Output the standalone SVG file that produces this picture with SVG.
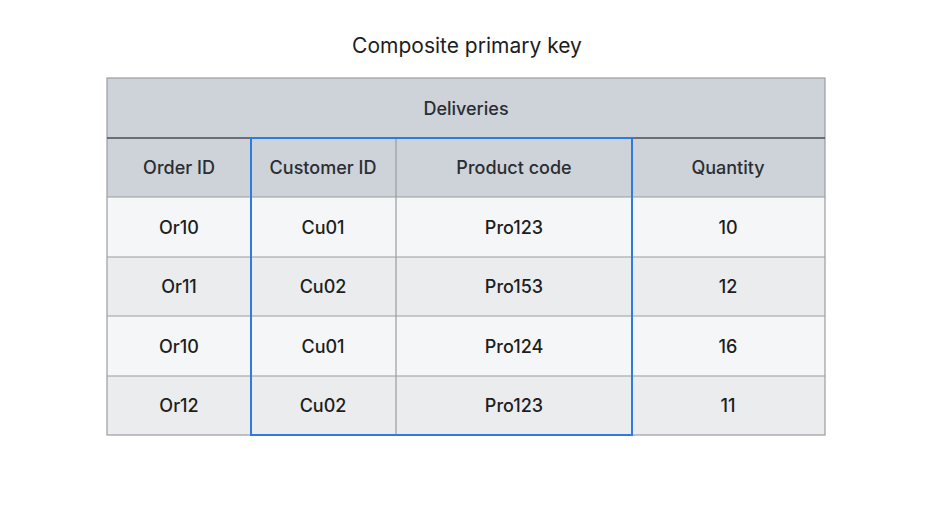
<svg xmlns="http://www.w3.org/2000/svg" width="925" height="507" viewBox="0 0 925 507">
<style>
text{font-family:Inter,"Noto Sans","Liberation Sans",sans-serif;fill:#1c1e21;text-anchor:middle;dominant-baseline:central}
.t{font-size:21px;font-weight:400}
.h{font-size:18px;fill:#2a2d31;font-weight:500}
.c{font-size:18px;fill:#1c1e21;font-weight:500}
.hd{fill:#cdd3d9}
.r1{fill:#f5f6f7}
.r2{fill:#ebecee}
.g{stroke:#9a9da1;stroke-width:1.2;fill:none}
</style>
<rect width="925" height="507" fill="#ffffff"/>
<text class="t" x="467" y="45">Composite primary key</text>
<g id="table">
<rect class="hd" x="107" y="78" width="718" height="119"/>
<rect class="r1" x="107" y="197" width="718" height="60"/>
<rect class="r2" x="107" y="257" width="718" height="59"/>
<rect class="r1" x="107" y="316" width="718" height="60"/>
<rect class="r2" x="107" y="376" width="718" height="59"/>
<g class="g">
<rect x="107" y="78" width="718" height="357"/>
<line x1="107" y1="197" x2="825" y2="197"/>
<line x1="107" y1="257" x2="825" y2="257"/>
<line x1="107" y1="316" x2="825" y2="316"/>
<line x1="107" y1="376" x2="825" y2="376"/>
<line x1="251" y1="138" x2="251" y2="435"/>
<line x1="396" y1="138" x2="396" y2="435"/>
<line x1="632" y1="138" x2="632" y2="435"/>
</g>
<line x1="107" y1="138" x2="825" y2="138" stroke="#4a4d52" stroke-width="1.5"/>
</g>
<g id="key">
<rect x="251" y="138" width="381" height="297" fill="none" stroke="#2d7be0" stroke-width="2"/>
</g>
<g id="text">
<text class="h" x="466" y="108">Deliveries</text>
<text class="h" x="179" y="167">Order ID</text>
<text class="h" x="323" y="167">Customer ID</text>
<text class="h" x="514" y="167">Product code</text>
<text class="h" x="728" y="167">Quantity</text>
<text class="c" x="179" y="227">Or10</text>
<text class="c" x="323" y="227">Cu01</text>
<text class="c" x="514" y="227">Pro123</text>
<text class="c" x="728" y="227">10</text>
<text class="c" x="179" y="286">Or11</text>
<text class="c" x="323" y="286">Cu02</text>
<text class="c" x="514" y="286">Pro153</text>
<text class="c" x="728" y="286">12</text>
<text class="c" x="179" y="346">Or10</text>
<text class="c" x="323" y="346">Cu01</text>
<text class="c" x="514" y="346">Pro124</text>
<text class="c" x="728" y="346">16</text>
<text class="c" x="179" y="405">Or12</text>
<text class="c" x="323" y="405">Cu02</text>
<text class="c" x="514" y="405">Pro123</text>
<text class="c" x="728" y="405">11</text>
</g>
</svg>
